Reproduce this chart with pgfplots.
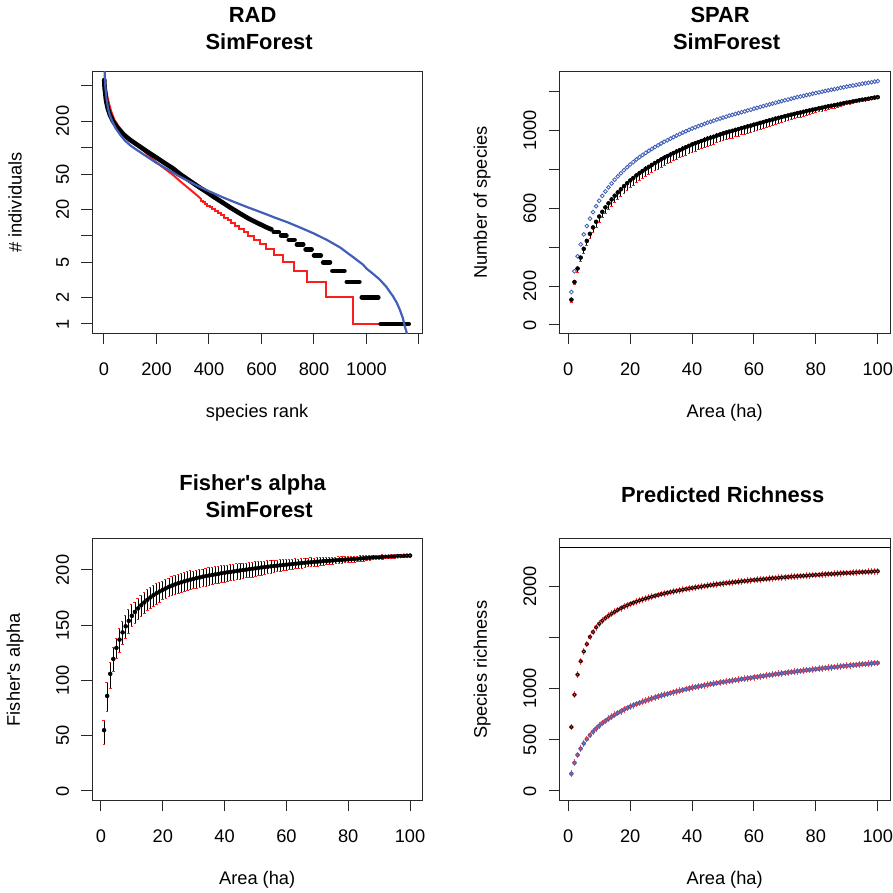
\documentclass[border=0pt]{standalone}
\usepackage{fontspec}
\setmainfont{Liberation Sans}
\usepackage{pgfplots}
\usepackage{pgfplotstable}
\pgfplotsset{compat=1.18}
\definecolor{rblue}{RGB}{65,95,185}
\definecolor{rred}{RGB}{250,30,30}
\definecolor{rbox}{RGB}{40,40,40}

\pgfplotstableread{
a b o em ep p f fm fp
1 169 130 12 4 625 55 13 9
2 276 221 15 5 941 86 14 12
3 353 290 18 5 1137 106 13 10
4 414 346 20 6 1268 119.5 11 10
5 465 391 22 7 1363 129.5 10 9
6 508 432 24 7 1435 137 12 10
7 546 468 25 8 1506 143.5 11 10
8 580 501 27 8 1554 149 11 10
9 610 530 28 8 1600 154 11 10
10 638 557 30 9 1635 158.5 10 10
11 663 581 31 9 1664 162 10 9
12 686 604 32 10 1689 165.2 10 9
13 707 625 33 10 1713 168 10 9
14 727 645 34 10 1733 170.6 10 9
15 746 664 35 11 1752 173 10 9
16 763 681 36 11 1770 175.2 10 9
17 779 697 36 11 1786 177.2 10 9
18 795 713 37 11 1801 179 10 9
19 810 728 37 11 1814 180.6 10 8
20 824 742 38 11 1827 182.1 9 8
21 837 755 38 11 1839 183.4 9 8
22 850 768 38 11 1851 184.7 9 8
23 862 780 39 12 1862 185.8 9 8
24 873 791 39 12 1872 186.9 9 8
25 884 802 39 12 1881 187.9 9 8
26 894 812 40 12 1890 188.8 9 8
27 904 822 40 12 1899 189.7 9 8
28 914 832 40 12 1907 190.5 9 8
29 923 841 40 12 1915 191.3 9 8
30 932 850 40 12 1923 192 9 7
31 941 859 40 12 1930 192.7 9 7
32 949 867 40 12 1937 193.3 9 7
33 957 875 40 12 1944 193.9 9 7
34 965 883 40 12 1950 194.5 9 7
35 973 891 40 12 1956 195 9 7
36 980 898 40 12 1962 195.5 8.5 7
37 988 906 40 12 1968 196 8.5 7
38 995 913 40 12 1973 196.5 8.5 7
39 1002 920 40 12 1979 197 8.5 7
40 1009 927 40 12 1984 197.5 8.5 7
41 1015 933 40 12 1989 197.9 8 6.5
42 1021 939 40 12 1994 198.3 8 6.5
43 1027 945 39 12 1998 198.7 8 6.5
44 1033 951 39 12 2003 199.1 8 6.5
45 1039 957 39 12 2007 199.5 8 6.5
46 1044 962 39 12 2012 199.9 7.5 6
47 1049 967 38 11 2016 200.3 7.5 6
48 1055 973 38 11 2020 200.7 7.5 6
49 1060 978 38 11 2024 201.1 7.5 6
50 1065 983 38 11 2028 201.5 7 6
51 1070 988 37 11 2032 201.9 7 5.5
52 1075 993 37 11 2035 202.3 7 5.5
53 1079 997 37 11 2039 202.6 6.5 5.5
54 1084 1002 36 11 2042 203 6.5 5.5
55 1088 1006 36 11 2046 203.3 6 5.5
56 1093 1011 35 10 2049 203.6 6 5
57 1097 1015 35 10 2052 203.9 5.5 5
58 1102 1020 34 10 2055 204.2 5.5 5
59 1106 1024 34 10 2059 204.5 5 5
60 1111 1029 33 10 2062 204.8 5 4.5
61 1115 1033 33 10 2065 205.1 5 4.5
62 1120 1038 32 10 2067 205.4 5 4.5
63 1124 1042 32 10 2070 205.7 4.5 4.5
64 1129 1047 31 9 2073 206 4.5 4
65 1133 1051 30 9 2076 206.3 4.5 4
66 1137 1055 30 9 2079 206.5 4 4
67 1142 1060 29 9 2081 206.8 4 4
68 1146 1064 28 8 2084 207 4 4
69 1150 1068 28 8 2086 207.3 4 3.5
70 1154 1072 27 8 2089 207.5 4 3.5
71 1158 1076 26 8 2091 207.7 3.5 3.5
72 1162 1080 26 8 2094 208 3.5 3.5
73 1166 1084 25 8 2096 208.2 3.5 3.5
74 1170 1088 24 7 2098 208.4 3.5 3
75 1173 1091 24 7 2101 208.6 3.5 3
76 1177 1095 23 7 2103 208.8 3 3
77 1181 1099 22 7 2105 209 3 3
78 1184 1102 21 6 2107 209.2 3 3
79 1188 1106 21 6 2109 209.4 3 3
80 1191 1109 20 6 2112 209.6 3 3
81 1195 1113 19 6 2113 209.8 3 2.5
82 1198 1116 18 5 2116 210 3 2.5
83 1202 1120 17 5 2118 210.2 2.5 2.5
84 1205 1123 17 5 2120 210.4 2.5 2.5
85 1208 1126 16 5 2121 210.6 2.5 2.5
86 1211 1129 15 5 2123 210.8 2.5 2
87 1214 1132 14 4 2125 211 2 2
88 1218 1136 13 4 2127 211.2 2 2
89 1221 1139 13 4 2129 211.4 2 2
90 1224 1142 12 4 2131 211.6 2 2
91 1227 1145 11 3 2132 211.7 2 2
92 1230 1148 10 3 2134 211.9 1.5 1.5
93 1233 1151 9 3 2136 212 1.5 1.5
94 1236 1154 8 2 2138 212.2 1.5 1.5
95 1239 1157 7 2 2139 212.3 1.5 1.5
96 1241 1159 6 2 2141 212.5 1 1
97 1244 1162 5 2 2143 212.6 1 1
98 1247 1165 4 1 2144 212.8 1 1
99 1250 1168 3 1 2146 212.9 0.5 0.5
100 1252 1170 2 1 2147 213 0.5 0.5
}\data

\newcommand\lab{\fontsize{18.25}{21}\selectfont}
\newcommand\ttl{\fontsize{21.9}{26.7}\selectfont\bfseries}

\pgfplotsset{rstyle/.style={
  scale only axis, anchor=south west,
  axis line style={rbox, line width=1pt},
  tick align=outside, tick pos=left,
  major tick length=10.5pt,
  tick style={rbox, line width=1pt},
  xticklabel style={font=\lab},
  yticklabel style={font=\lab, rotate=90, anchor=south},
  xticklabel shift=15pt, yticklabel shift=9pt,
  xlabel style={font=\lab, at={(axis description cs:0.5,-0.302)}, anchor=center},
  ylabel style={font=\lab, at={(axis description cs:-0.233,0.5)}, anchor=center},
  title style={font=\ttl, align=center, at={(axis description cs:0.5,1.139)}, anchor=center},
}}

\begin{document}
\begin{tikzpicture}
\path[use as bounding box] (0pt,0pt) rectangle (893pt,893pt);

% ---------- RAD ----------
\begin{axis}[rstyle, at={(92pt,559.3pt)}, width=330.3pt, height=262.4pt,
  xmin=-45.6, xmax=1212.6, ymode=log, ymin=0.776, ymax=733,
  xtick={0,200,400,600,800,1000,1200}, xticklabels={0,200,400,600,800,1000,{}},
  ytick={1,2,5,10,20,50,100,200,500}, yticklabels={1,2,5,{},20,50,{},200,{}},
  title={RAD\hspace*{9pt}\\\hspace*{4pt}SimForest},
  xlabel={species rank}, ylabel={\# individuals}]
\addplot[rred, line width=2pt] coordinates {(1,600) (3,540) (6,480) (9,440) (13,380) (19,318) (28,255) (40,206) (55,175) (72,152) (85,135) (110,115) (136,101) (170,82) (200,68) (230,58) (263,49) (288,42) (320,35) (350,29.5) (368,26.5)};
\addplot[rred, line width=2pt, const plot] coordinates {(368,26.5) (368,25) (377,24) (385,23) (394,22) (403,21) (413,20) (424,19) (434,18) (446,17) (458,16) (471,15) (484,14) (499,13) (515,12) (532,11) (550,10) (571,9) (594,8) (619,7) (648,6) (683,5) (724,4) (775,3) (844,2) (949,1) (1166,1)};
\addplot[black, line width=4.6pt, line cap=round, line join=round] coordinates {(1,585) (2,500) (3,460) (5,410) (7,360) (9,330) (12,300) (15,275) (22,238) (34,200) (50,170) (72,143) (100,122) (136,103) (170,88) (200,77) (230,67) (263,58) (290,50) (327,42) (360,36) (390,31.5) (415,28) (450,24) (480,21) (517,18) (543,16.2) (554,15.5) (574,14.5) (595,13.5) (618,12.5) (638,11.8)};
\addplot[black, line width=4.6pt, line cap=round] coordinates {(647,11) (666,11)};
\addplot[black, line width=4.6pt, line cap=round] coordinates {(675,10) (695,10)};
\addplot[black, line width=4.6pt, line cap=round] coordinates {(704,9) (726,9)};
\addplot[black, line width=4.6pt, line cap=round] coordinates {(735,8) (759,8)};
\addplot[black, line width=4.6pt, line cap=round] coordinates {(768,7) (791,7)};
\addplot[black, line width=4.6pt, line cap=round] coordinates {(800,6) (826,6)};
\addplot[black, line width=4.6pt, line cap=round] coordinates {(835,5) (861,5)};
\addplot[black, line width=4.6pt, line cap=round] coordinates {(870,4) (916,4)};
\addplot[black, line width=4.6pt, line cap=round] coordinates {(925,3) (973,3)};
\addplot[black, line width=4.6pt, line cap=round] coordinates {(982,2) (1045,2)};
\addplot[black, line width=4.6pt, line cap=round] coordinates {(1054,1) (1161,1)};
\addplot[rblue, line width=2.2pt] coordinates {(1,1000) (2,800) (4,560) (6,460) (10,350) (15,285) (20,245) (30,202) (45,165) (60,142) (80,120) (100,106) (125,94) (150,84) (200,67) (250,55) (288,47) (300,45) (350,37.7) (400,32) (450,27.5) (500,23.9) (550,20.9) (600,18.4) (650,16.1) (700,14.2) (750,12.3) (800,10.6) (850,8.95) (900,7.36) (924,6.5) (950,5.7) (987,4.7) (1000,4.25) (1025,3.7) (1050,3.2) (1075,2.65) (1101,2.06) (1115,1.75) (1127,1.45) (1138,1.18) (1146,0.94) (1152,0.82) (1158,0.68)};
\end{axis}

% ---------- SPAR ----------
\begin{axis}[rstyle, at={(559.3pt,559.3pt)}, width=330.7pt, height=262.4pt,
  xmin=-2.9, xmax=103.96, ymin=-44.7, ymax=1303,
  xtick={0,20,40,60,80,100}, xticklabels={0,20,40,60,80,100},
  ytick={0,200,400,600,800,1000,1200}, yticklabels={0,200,{},600,{},1000,{}},
  title={SPAR\hspace*{9pt}\\\hspace*{4pt}SimForest},
  xlabel={Area (ha)}, ylabel={Number of species}]
\addplot[rblue, only marks, mark=o, mark size=1.9pt, mark options={line width=0.85pt}] table[x=a, y=b] \data;
\addplot[black, only marks, mark=none, error bars/.cd, y dir=both, y explicit, error mark=none, error bar style={line width=0.8pt, black}] table[x=a, y=o, y error plus=ep, y error minus=em] \data;
\addplot[rred, only marks, mark=-, mark size=1.4pt, mark options={line width=1pt}] table[x=a, y expr=\thisrow{o}-\thisrow{em}] \data;
\addplot[black, only marks, mark=o, mark size=1.6pt, mark options={line width=0.75pt}] table[x=a, y=o] \data;
\end{axis}

% ---------- Fisher's alpha ----------
\begin{axis}[rstyle, at={(92pt,92.3pt)}, width=330.3pt, height=262pt,
  xmin=-2.9, xmax=103.96, ymin=-8.8, ymax=228.3,
  xtick={0,20,40,60,80,100}, xticklabels={0,20,40,60,80,100},
  ytick={0,50,100,150,200}, yticklabels={0,50,100,150,200},
  title={Fisher\textquotesingle s alpha\hspace*{9pt}\\\hspace*{4pt}SimForest},
  xlabel={Area (ha)}, ylabel={Fisher\textquotesingle s alpha}]
\addplot[black, only marks, mark=none, error bars/.cd, y dir=both, y explicit, error mark=none, error bar style={line width=0.8pt, black}] table[x=a, y=f, y error plus=fp, y error minus=fm] \data;
\addplot[rred, only marks, mark=-, mark size=1.3pt, mark options={line width=0.9pt}] table[x=a, y expr=\thisrow{f}-\thisrow{fm}] \data;
\addplot[rred, only marks, mark=-, mark size=1.1pt, mark options={line width=0.8pt, xshift=-0.6pt}] table[x=a, y expr=\thisrow{f}+\thisrow{fp}] \data;
\addplot[black, only marks, mark=o, mark size=1.5pt, mark options={line width=0.7pt}] table[x=a, y=f] \data;
\end{axis}

% ---------- Predicted Richness ----------
\begin{axis}[rstyle, at={(559.3pt,92.3pt)}, width=330.7pt, height=262pt,
  xmin=-2.9, xmax=103.96, ymin=-94.8, ymax=2465.6,
  xtick={0,20,40,60,80,100}, xticklabels={0,20,40,60,80,100},
  ytick={0,500,1000,1500,2000}, yticklabels={0,500,1000,{},2000},
  title={Predicted Richness\hspace*{4pt}},
  title style={at={(axis description cs:0.5,1.145)}},
  xlabel={Area (ha)}, ylabel={Species richness}]
\addplot[black, line width=1pt] coordinates {(-10,2384) (110,2384)};
\addplot[rred!80, only marks, mark=none, error bars/.cd, y dir=both, y fixed=32, error mark=none, error bar style={line width=0.75pt, rred!80}] table[x=a, y=p] \data;
\addplot[rred!80, only marks, mark=none, error bars/.cd, y dir=both, y fixed=32, error mark=none, error bar style={line width=0.75pt, rred!80}] table[x=a, y=b] \data;
\addplot[black, only marks, mark=o, mark size=1.6pt, mark options={line width=0.75pt}] table[x=a, y=p] \data;
\addplot[rblue, only marks, mark=o, mark size=1.8pt, mark options={line width=0.8pt}] table[x=a, y=b] \data;
\end{axis}
\end{tikzpicture}
\end{document}
